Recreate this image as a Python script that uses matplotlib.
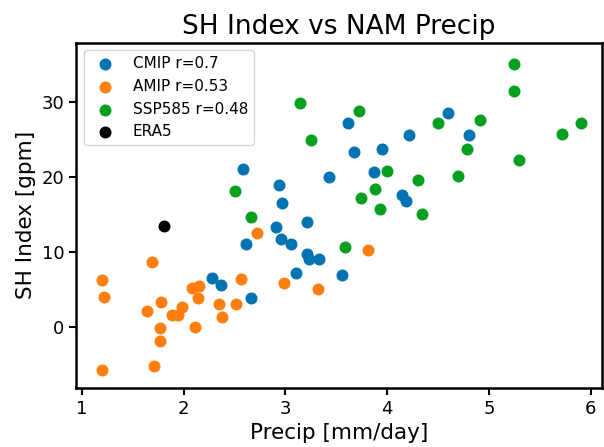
import matplotlib
matplotlib.use("Agg")
import matplotlib.pyplot as plt

# CMIP models
cmip_precip = [2.28, 2.37, 2.66, 2.61, 2.97, 2.91, 2.955, 3.06, 3.21, 3.21, 3.23, 3.33, 3.11,
               3.56, 2.58, 2.94, 3.43, 3.62, 4.60, 4.80, 4.22, 3.67, 3.945, 3.87, 4.15, 4.19]
cmip_sh = [6.5, 5.6, 3.9, 11.1, 16.5, 13.4, 11.8, 11.1, 14.0, 9.7, 9.1, 9.0, 7.2,
           6.9, 21.1, 19.0, 20.0, 27.3, 28.6, 25.7, 25.6, 23.4, 23.8, 20.7, 17.6, 16.8]

# AMIP models
amip_precip = [1.20, 1.22, 1.20, 1.69, 1.64, 1.78, 1.77, 1.77, 1.71, 1.89, 1.95, 1.985,
               2.08, 2.15, 2.14, 2.11, 2.345, 2.38, 2.52, 2.56, 2.72, 2.99, 3.32, 3.81]
amip_sh = [6.2, 4.0, -5.8, 8.6, 2.1, 3.3, -0.2, -1.9, -5.2, 1.6, 1.6, 2.7,
           5.2, 5.5, 3.8, 0.0, 3.0, 1.3, 3.0, 6.4, 12.6, 5.9, 5.1, 10.3]

# SSP585 models
ssp_precip = [2.66, 3.59, 3.14, 3.25, 2.51, 5.25, 5.25, 3.72, 4.50, 4.91, 5.72,
              5.90, 4.78, 5.30, 4.00, 4.30, 4.70, 3.88, 3.74, 3.93, 4.34]
ssp_sh = [14.7, 10.7, 29.9, 25.0, 18.2, 35.2, 31.6, 28.9, 27.2, 27.6, 25.8,
          27.3, 23.8, 22.3, 20.8, 19.6, 20.1, 18.4, 17.2, 15.7, 15.1]

# reanalysis
era5_precip = [1.81]
era5_sh = [13.5]

fig = plt.figure(figsize=(6.04, 4.47), dpi=100)
ax = fig.add_axes([76/604, 59/447, 526/604, 345.3/447])

ax.scatter(cmip_precip, cmip_sh, s=58, color='#0173b2', label='CMIP r=0.7')
ax.scatter(amip_precip, amip_sh, s=58, color='#ff7f0e', label='AMIP r=0.53')
ax.scatter(ssp_precip, ssp_sh, s=58, color='#02a01e', label='SSP585 r=0.48')
ax.scatter(era5_precip, era5_sh, s=58, color='black', label='ERA5')

ax.set_xlim(0.944, 6.111)
ax.set_ylim(-8.2, 38.0)
ax.set_xticks([1, 2, 3, 4, 5, 6])
ax.set_yticks([0, 10, 20, 30])

for sp in ax.spines.values():
    sp.set_linewidth(1.8)
ax.tick_params(labelsize=13, width=1.5, length=5)

ax.set_xlabel('Precip [mm/day]', fontsize=15.5)
ax.set_ylabel('SH Index [gpm]', fontsize=15.5)
ax.set_title('SH Index vs NAM Precip', fontsize=19)
ax.legend(loc='upper left', fontsize=11)

fig.savefig('out.png', dpi=100)
